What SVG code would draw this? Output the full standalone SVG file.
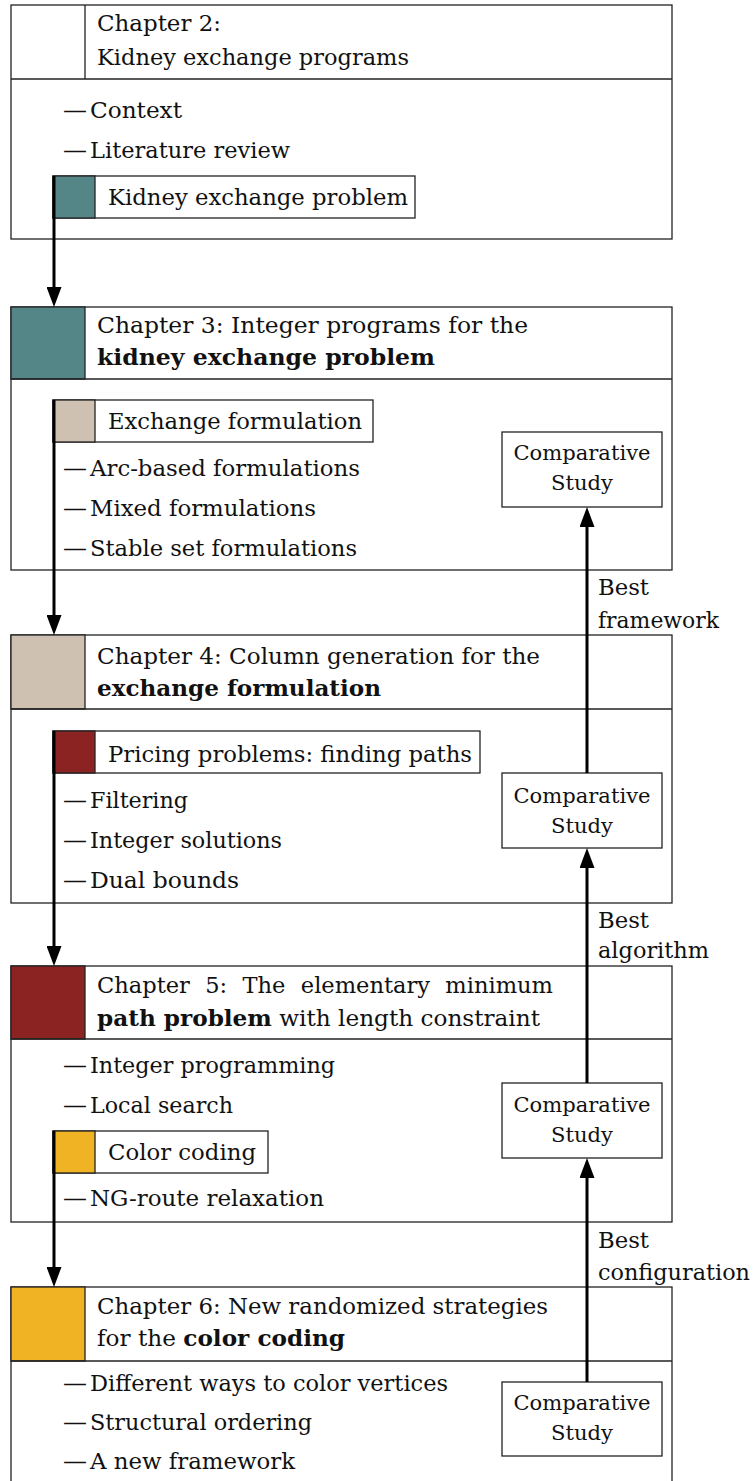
<svg xmlns="http://www.w3.org/2000/svg" width="753" height="1481" viewBox="0 0 753 1481">
<defs>
<style>
.box{fill:#fff;stroke:#222;stroke-width:1.3}
.ln{stroke:#222;stroke-width:1.3;fill:none}
text{font-family:"DejaVu Serif","Liberation Serif",serif;font-size:22px;fill:#111}
.cs{font-size:20px;text-anchor:middle}
.b{font-weight:bold}
.teal{fill:#548687}
.beige{fill:#cfc1b1}
.maroon{fill:#8c2323}
.gold{fill:#efb323}
.arr{stroke:#000;stroke-width:3;fill:none;marker-end:url(#ah)}
</style>
<marker id="ah" markerUnits="userSpaceOnUse" markerWidth="20" markerHeight="15" refX="2" refY="7.5" orient="auto">
<path d="M0,0 L20,7.5 L0,15 Z" fill="#000"/>
</marker>
</defs>

<g id="ch2">
<rect class="box" x="11" y="5" width="661" height="234"/>
<line class="ln" x1="11" y1="79" x2="672" y2="79"/>
<line class="ln" x1="85" y1="5" x2="85" y2="79"/>
<text x="97" y="31" textLength="124" lengthAdjust="spacingAndGlyphs">Chapter 2:</text>
<text x="97" y="65" textLength="312" lengthAdjust="spacingAndGlyphs">Kidney exchange programs</text>
<text x="63" y="118" textLength="24" lengthAdjust="spacingAndGlyphs">—</text>
<text x="90" y="118" textLength="92" lengthAdjust="spacingAndGlyphs">Context</text>
<text x="63" y="158" textLength="24" lengthAdjust="spacingAndGlyphs">—</text>
<text x="90" y="158" textLength="200" lengthAdjust="spacingAndGlyphs">Literature review</text>
</g>
<g id="kep">
<rect class="box" x="53" y="176" width="362" height="42"/>
<rect class="teal" x="53" y="176" width="42" height="42" stroke="#222" stroke-width="1.3"/>
<text x="108" y="205" textLength="300" lengthAdjust="spacingAndGlyphs">Kidney exchange problem</text>
</g>

<g id="ch3">
<rect class="box" x="11" y="307" width="661" height="263"/>
<rect class="teal" x="11" y="307" width="74" height="72" stroke="#222" stroke-width="1.3"/>
<line class="ln" x1="11" y1="379" x2="672" y2="379"/>
<text x="97" y="333" textLength="431" lengthAdjust="spacingAndGlyphs">Chapter 3: Integer programs for the</text>
<text x="97" y="365" class="b" textLength="338" lengthAdjust="spacingAndGlyphs">kidney exchange problem</text>
<text x="63" y="476" textLength="24" lengthAdjust="spacingAndGlyphs">—</text>
<text x="90" y="476" textLength="270" lengthAdjust="spacingAndGlyphs">Arc-based formulations</text>
<text x="63" y="516" textLength="24" lengthAdjust="spacingAndGlyphs">—</text>
<text x="90" y="516" textLength="226" lengthAdjust="spacingAndGlyphs">Mixed formulations</text>
<text x="63" y="556" textLength="24" lengthAdjust="spacingAndGlyphs">—</text>
<text x="90" y="556" textLength="267" lengthAdjust="spacingAndGlyphs">Stable set formulations</text>
</g>
<g id="exf">
<rect class="box" x="53" y="400" width="320" height="42"/>
<rect class="beige" x="53" y="400" width="42" height="42" stroke="#222" stroke-width="1.3"/>
<text x="108" y="429" textLength="254" lengthAdjust="spacingAndGlyphs">Exchange formulation</text>
</g>
<g id="cs3">
<rect class="box" x="502" y="432" width="160" height="75"/>
<text class="cs" x="582" y="460" textLength="137" lengthAdjust="spacingAndGlyphs">Comparative</text>
<text class="cs" x="582" y="490" textLength="62" lengthAdjust="spacingAndGlyphs">Study</text>
</g>

<g id="ch4">
<rect class="box" x="11" y="635" width="661" height="268"/>
<rect class="beige" x="11" y="635" width="74" height="74" stroke="#222" stroke-width="1.3"/>
<line class="ln" x1="11" y1="709" x2="672" y2="709"/>
<text x="97" y="664" textLength="443" lengthAdjust="spacingAndGlyphs">Chapter 4: Column generation for the</text>
<text x="97" y="696" class="b" textLength="284" lengthAdjust="spacingAndGlyphs">exchange formulation</text>
<text x="63" y="808" textLength="24" lengthAdjust="spacingAndGlyphs">—</text>
<text x="90" y="808" textLength="98" lengthAdjust="spacingAndGlyphs">Filtering</text>
<text x="63" y="848" textLength="24" lengthAdjust="spacingAndGlyphs">—</text>
<text x="90" y="848" textLength="192" lengthAdjust="spacingAndGlyphs">Integer solutions</text>
<text x="63" y="888" textLength="24" lengthAdjust="spacingAndGlyphs">—</text>
<text x="90" y="888" textLength="149" lengthAdjust="spacingAndGlyphs">Dual bounds</text>
</g>
<g id="pp">
<rect class="box" x="53" y="731" width="427" height="42"/>
<rect class="maroon" x="53" y="731" width="42" height="42" stroke="#222" stroke-width="1.3"/>
<text x="108" y="762" textLength="364" lengthAdjust="spacingAndGlyphs">Pricing problems: finding paths</text>
</g>
<g id="cs4">
<rect class="box" x="502" y="773" width="160" height="75"/>
<text class="cs" x="582" y="803" textLength="137" lengthAdjust="spacingAndGlyphs">Comparative</text>
<text class="cs" x="582" y="833" textLength="62" lengthAdjust="spacingAndGlyphs">Study</text>
</g>

<g id="ch5">
<rect class="box" x="11" y="966" width="661" height="256"/>
<rect class="maroon" x="11" y="966" width="74" height="73" stroke="#222" stroke-width="1.3"/>
<line class="ln" x1="11" y1="1039" x2="672" y2="1039"/>
<text x="97" y="993" word-spacing="8" textLength="456" lengthAdjust="spacingAndGlyphs">Chapter 5: The elementary minimum</text>
<text x="97" y="1026" textLength="443" lengthAdjust="spacingAndGlyphs"><tspan class="b">path problem</tspan> with length constraint</text>
<text x="63" y="1073" textLength="24" lengthAdjust="spacingAndGlyphs">—</text>
<text x="90" y="1073" textLength="245" lengthAdjust="spacingAndGlyphs">Integer programming</text>
<text x="63" y="1113" textLength="24" lengthAdjust="spacingAndGlyphs">—</text>
<text x="90" y="1113" textLength="143" lengthAdjust="spacingAndGlyphs">Local search</text>
<text x="63" y="1206" textLength="24" lengthAdjust="spacingAndGlyphs">—</text>
<text x="90" y="1206" textLength="234" lengthAdjust="spacingAndGlyphs">NG-route relaxation</text>
</g>
<g id="cc">
<rect class="box" x="53" y="1131" width="215" height="42"/>
<rect class="gold" x="53" y="1131" width="42" height="42" stroke="#222" stroke-width="1.3"/>
<text x="108" y="1160" textLength="148" lengthAdjust="spacingAndGlyphs">Color coding</text>
</g>
<g id="cs5">
<rect class="box" x="502" y="1083" width="160" height="75"/>
<text class="cs" x="582" y="1112" textLength="137" lengthAdjust="spacingAndGlyphs">Comparative</text>
<text class="cs" x="582" y="1142" textLength="62" lengthAdjust="spacingAndGlyphs">Study</text>
</g>

<g id="ch6">
<rect class="box" x="11" y="1287" width="661" height="230"/>
<rect class="gold" x="11" y="1287" width="74" height="74" stroke="#222" stroke-width="1.3"/>
<line class="ln" x1="11" y1="1361" x2="672" y2="1361"/>
<text x="97" y="1314" textLength="451" lengthAdjust="spacingAndGlyphs">Chapter 6: New randomized strategies</text>
<text x="97" y="1346" textLength="248" lengthAdjust="spacingAndGlyphs">for the <tspan class="b">color coding</tspan></text>
<text x="63" y="1391" textLength="24" lengthAdjust="spacingAndGlyphs">—</text>
<text x="90" y="1391" textLength="358" lengthAdjust="spacingAndGlyphs">Different ways to color vertices</text>
<text x="63" y="1430" textLength="24" lengthAdjust="spacingAndGlyphs">—</text>
<text x="90" y="1430" textLength="222" lengthAdjust="spacingAndGlyphs">Structural ordering</text>
<text x="63" y="1469" textLength="24" lengthAdjust="spacingAndGlyphs">—</text>
<text x="90" y="1469" textLength="205" lengthAdjust="spacingAndGlyphs">A new framework</text>
</g>
<g id="cs6">
<rect class="box" x="502" y="1382" width="160" height="74"/>
<text class="cs" x="582" y="1410" textLength="137" lengthAdjust="spacingAndGlyphs">Comparative</text>
<text class="cs" x="582" y="1440" textLength="62" lengthAdjust="spacingAndGlyphs">Study</text>
</g>

<g id="connectors">
<line class="arr" x1="54" y1="176" x2="54" y2="289"/>
<line class="arr" x1="54" y1="400" x2="54" y2="617"/>
<line class="arr" x1="54" y1="731" x2="54" y2="948"/>
<line class="arr" x1="54" y1="1131" x2="54" y2="1269"/>
<line class="arr" x1="587" y1="773" x2="587" y2="525"/>
<line class="arr" x1="587" y1="1083" x2="587" y2="866"/>
<line class="arr" x1="587" y1="1382" x2="587" y2="1176"/>
<text x="598" y="595" textLength="51" lengthAdjust="spacingAndGlyphs">Best</text>
<text x="598" y="628" textLength="121" lengthAdjust="spacingAndGlyphs">framework</text>
<text x="598" y="928" textLength="51" lengthAdjust="spacingAndGlyphs">Best</text>
<text x="598" y="958" textLength="111" lengthAdjust="spacingAndGlyphs">algorithm</text>
<text x="598" y="1248" textLength="51" lengthAdjust="spacingAndGlyphs">Best</text>
<text x="598" y="1280" textLength="152" lengthAdjust="spacingAndGlyphs">configuration</text>
</g>
</svg>
